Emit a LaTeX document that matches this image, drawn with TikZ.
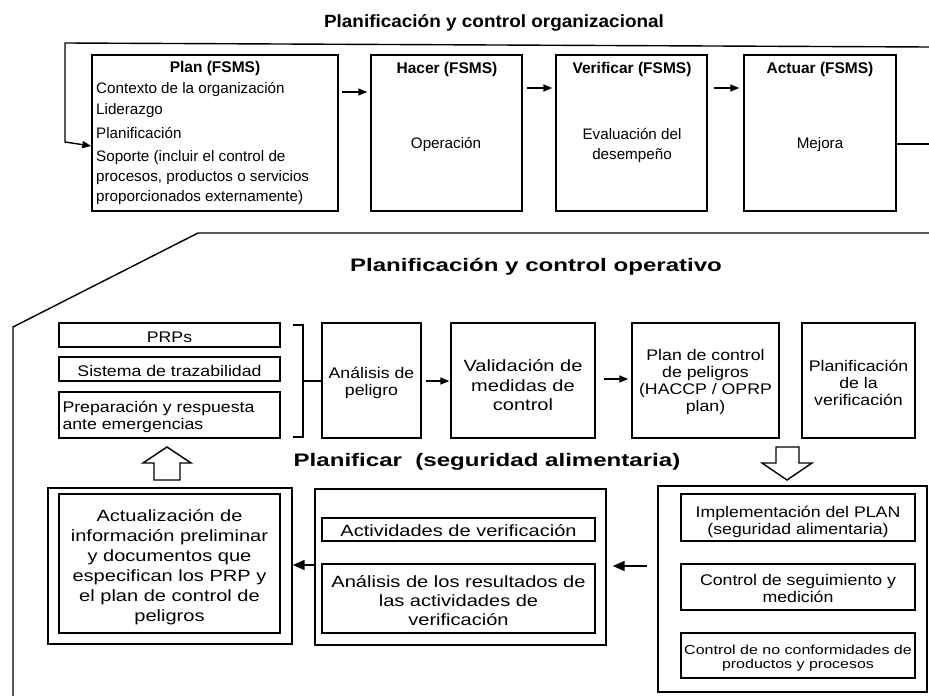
\documentclass[tikz,border=0pt]{standalone}
\usepackage{fontspec}
\setmainfont{Liberation Sans}
\newfontfamily\fA{Liberation Sans}
\newfontfamily\fB[FakeStretch=1.15]{Liberation Sans}
\newfontfamily\fC[FakeStretch=1.23]{Liberation Sans}
\newfontfamily\fT[FakeStretch=1.07]{Liberation Sans}
\newfontfamily\fW[FakeStretch=1.33]{Liberation Sans}
\usetikzlibrary{arrows.meta,fit}

\begin{document}
\begin{tikzpicture}[x=1pt,y=-1pt,
  box/.style={draw, line width=1.4pt, inner sep=0pt},
  ln/.style={line width=1.4pt},
  arr/.style={line width=1.4pt, -{Triangle[length=9pt,width=7pt]}},
  bigarr/.style={line width=1.6pt, -{Triangle[length=12pt,width=10pt]}},
  tx/.style={inner sep=0pt, font=\fA\fontsize{15.2}{20}\selectfont},
  hd/.style={inner sep=0pt, font=\fA\bfseries\fontsize{15.5}{18}\selectfont},
  t1/.style={inner sep=0pt, font=\fT\bfseries\fontsize{17.7}{20}\selectfont},
  t2/.style={inner sep=0pt, font=\fW\bfseries\fontsize{18.1}{22}\selectfont},
  mid/.style={inner sep=0pt, yshift=-2pt, font=\fB\fontsize{15.4}{17}\selectfont, align=center},
  val/.style={inner sep=0pt, yshift=-5pt, font=\fC\fontsize{16.3}{19.5}\selectfont, align=center},
  bot/.style={inner sep=0pt, yshift=-2pt, font=\fC\fontsize{16.3}{20}\selectfont, align=center},
  bots/.style={inner sep=0pt, yshift=-2pt, font=\fC\fontsize{16.3}{19}\selectfont, align=center},
  small/.style={inner sep=0pt, yshift=-3pt, font=\fC\fontsize{13}{14}\selectfont, align=center},
  hollow/.style={draw, line width=1.4pt, fill=white, line join=miter}
]
\fill[white] (0,0) rectangle (929,696);
\useasboundingbox (0,0) rectangle (929,696);

% ---------- Planificación y control organizacional ----------
\node[t1] (title1) at (494,23) {Planificación y control organizacional};

\node[box, fit={(92,55)(338,211)}] (plan) {};
\node[box, fit={(371,55)(522,211)}] (hacer) {};
\node[box, fit={(556,55)(707,211)}] (verif) {};
\node[box, fit={(744,55)(896,211)}] (actuar) {};

\node[hd] (plan-t) at (215,68) {Plan (FSMS)};
\node[hd] (hacer-t) at (447,69) {Hacer (FSMS)};
\node[hd] (verif-t) at (632,69) {Verificar (FSMS)};
\node[hd] (actuar-t) at (820,69) {Actuar (FSMS)};

\node[tx, anchor=west] (plan-1) at (96,89) {Contexto de la organización};
\node[tx, anchor=west] (plan-2) at (96,111) {Liderazgo};
\node[tx, anchor=west] (plan-3) at (96,133) {Planificación};
\node[tx, anchor=west, align=left] (plan-4) at (96,178)
  {Soporte (incluir el control de\\procesos, productos o servicios\\proporcionados externamente)};

\node[tx] (hacer-c) at (446,144) {Operación};
\node[tx, align=center] (verif-c) at (632,145) {Evaluación del\\desempeño};
\node[tx] (actuar-c) at (820,145) {Mejora};

\draw[arr, shorten <=3pt, shorten >=3pt] (plan.east |- 0,92) -- (hacer.west |- 0,92);
\draw[arr, shorten <=4pt, shorten >=3pt] (hacer.east |- 0,88) -- (verif.west |- 0,88);
\draw[arr, shorten <=6pt, shorten >=4pt] (verif.east |- 0,88) -- (actuar.west |- 0,88);

% feedback loop over the top row
\coordinate (loopR) at (929,47);
\coordinate (loopL) at (65,43);
\coordinate (loopB) at (65,142);
\draw[arr] (loopR) -- (loopL) -- (loopB) -- (plan.west |- 0,146);
\coordinate (mejR) at (929,144);
\draw[ln] (actuar.east |- 0,144) -- (mejR);

% ---------- Planificación y control operativo ----------
\draw[ln] (929,233) -- (198,233) -- (13,327) -- (13,700);
\node[t2] (title2) at (536,267) {Planificación y control operativo};

\node[box, fit={(59,323)(280,347)}] (prps) {};
\node[box, fit={(59,357)(280,381)}] (traz) {};
\node[box, fit={(59,392)(280,438)}] (prep) {};
\node[mid] (prps-t) at (prps) {PRPs};
\node[mid] (traz-t) at (traz) {Sistema de trazabilidad};
\node[mid, align=left, anchor=west] (prep-t) at (prep.west) [xshift=4pt]
  {Preparación y respuesta\\ante emergencias};

\node[box, fit={(322,323)(421,438)}] (analisis) {};
\node[box, fit={(451,323)(595,438)}] (valid) {};
\node[box, fit={(632,323)(779,438)}] (plc) {};
\node[box, fit={(802,323)(915,438)}] (planv) {};
\node[mid] (analisis-t) at (analisis) {Análisis de\\peligro};
\node[val] (valid-t) at (valid) {Validación de\\medidas de\\control};
\node[mid] (plc-t) at (plc) {Plan de control\\de peligros\\(HACCP / OPRP\\plan)};
\node[mid] (planv-t) at (planv) {Planificación\\de la\\verificación};

% bracket joining the three support boxes
\coordinate (brT) at (293,325);
\coordinate (brM) at (303,381);
\coordinate (brB) at (293,437);
\draw[line width=1.2pt] (brT) -- (brT -| brM) -- (brB -| brM) -- (brB);
\draw[line width=1.2pt] (brM) -- (analisis.west |- brM);

\draw[arr, shorten <=4pt, shorten >=1pt] (analisis.east |- 0,381) -- (valid.west |- 0,381);
\draw[arr, shorten <=8pt, shorten >=3pt] (valid.east |- 0,379) -- (plc.west |- 0,379);

% hollow block arrows
\draw[hollow] (154,480) -- (154,463) -- (143,463) -- (167,447) -- (191,463) -- (180,463) -- (180,480) -- cycle;
\draw[hollow] (776,447) -- (799,447) -- (799,463) -- (812,463) -- (787,480) -- (762,463) -- (776,463) -- cycle;

\node[t2] (title3) at (487,462) {Planificar\ \ (seguridad alimentaria)};

% ---------- bottom row ----------
\node[box, fit={(48,488)(292,644)}] (blo) {};
\node[box, fit={(59,494)(280,633)}] (bli) {};
\node[bot, yshift=-2pt] (bli-t) at (bli)
  {Actualización de\\información preliminar\\y documentos que\\especifican los PRP y\\el plan de control de\\peligros};

\node[box, fit={(315,489)(606,645)}] (bmo) {};
\node[box, fit={(322,518)(595,541)}] (act) {};
\node[box, fit={(322,564)(595,633)}] (anres) {};
\node[bot, yshift=1pt] (act-t) at (act) {Actividades de verificación};
\node[bots] (anres-t) at (anres) {Análisis de los resultados de\\las actividades de\\verificación};

\node[box, fit={(658,486)(927,692)}] (bro) {};
\node[box, fit={(681,494)(915,541)}] (impl) {};
\node[box, fit={(681,564)(915,610)}] (cseg) {};
\node[box, fit={(681,633)(915,678)}] (cnc) {};
\node[mid, yshift=-2pt] (impl-t) at (impl) {Implementación del PLAN\\(seguridad alimentaria)};
\node[mid, yshift=1pt] (cseg-t) at (cseg) {Control de seguimiento y\\medición};
\node[small] (cnc-t) at (cnc) {Control de no conformidades de\\productos y procesos};

\draw[bigarr] (bmo.west |- 0,565) -- (blo.east |- 0,565);
\draw[bigarr, shorten <=10pt, shorten >=6pt] (bro.west |- 0,566) -- (bmo.east |- 0,566);
\end{tikzpicture}
\end{document}
